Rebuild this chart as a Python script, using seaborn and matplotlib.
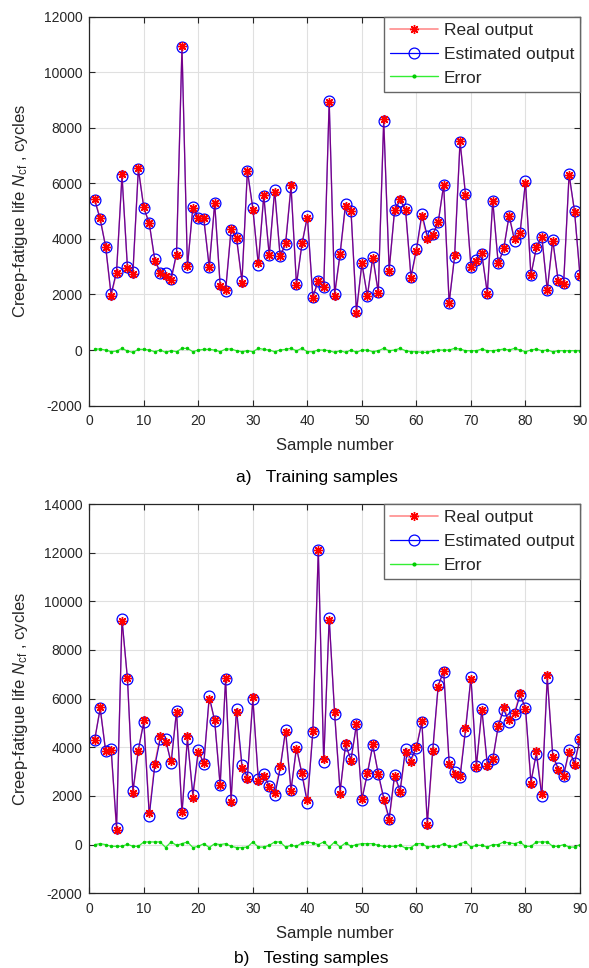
import numpy as np
import pandas as pd
import matplotlib
matplotlib.use('Agg')
import matplotlib.pyplot as plt
from matplotlib.lines import Line2D
import seaborn as sns

# training samples: real output (cycles) and error
train_real = [5430, 4740, 3720, 1940, 2790, 6330, 2940, 2730, 6540, 5140,
              4560, 3210, 2790, 2680, 2520, 3420, 10950, 3040, 5100, 4740,
              4740, 3000, 5280, 2300, 2160, 4360, 4020, 2430, 6430, 5040,
              3120, 5580, 3420, 5700, 3380, 3840, 5940, 2340, 3860, 4760,
              1860, 2500, 2260, 8930, 1940, 3440, 5180, 5000, 1320, 3120,
              1940, 3300, 2060, 8320, 2860, 5040, 5440, 5040, 2580, 3560,
              4820, 4010, 4140, 4600, 5950, 1700, 3420, 7540, 5580, 2980,
              3220, 3480, 2030, 5350, 3120, 3660, 4840, 3980, 4200, 6010,
              2700, 3720, 4060, 2160, 3910, 2480, 2380, 6300, 4970, 2660]
train_err = [36, 36, 0, -60, -36, 60, -36, -84, 24, 24,
             0, -60, 0, -84, -24, -60, 60, 60, -60, 0,
             24, 24, 0, -60, 36, 36, -24, -60, -24, -60,
             60, 24, 0, -60, 0, 24, 60, -24, 60, -60,
             -60, 0, 0, -24, -84, -24, -84, 0, -84, 0,
             0, -60, -24, 60, -24, 0, 60, -24, -60, -60,
             -84, -84, -24, 0, 0, 0, 60, 36, -24, -24,
             -24, 36, -24, -24, 0, 36, 0, 60, 0, -60,
             0, 36, -24, 0, -60, -24, -24, -24, -24, -24]

# testing samples
test_real = [4320, 5640, 3840, 3880, 620, 9200, 6830, 2130, 3840, 5140,
             1300, 3330, 4450, 4230, 3450, 5460, 1330, 4450, 1930, 3810,
             3360, 5980, 5120, 2440, 6830, 1760, 5460, 3150, 2680, 6080,
             2610, 2810, 2370, 2130, 3220, 4610, 2210, 3940, 2960, 1820,
             4680, 12110, 3500, 9230, 5460, 2100, 4160, 3430, 4940, 1890,
             2950, 4130, 2890, 1850, 1000, 2810, 2170, 3810, 3400, 4020,
             5090, 800, 3840, 6490, 7150, 3310, 2920, 2810, 4800, 6790,
             3200, 5530, 3220, 3500, 4870, 5660, 5120, 5420, 6250, 5560,
             2510, 3850, 2100, 6970, 3610, 3060, 2840, 3790, 3260, 4350]
test_err = [0, 40, 0, -70, -70, -70, 15, -70, -70, 110,
            110, 110, 110, -120, 110, -30, 40, 110, -120, -70,
            40, -120, 40, 0, 40, -70, -120, -120, -100, 110,
            -100, -100, -30, 110, 110, -100, -30, -70, 70, 110,
            70, 0, 110, -100, 110, -100, 70, -70, 0, 40,
            40, 40, -30, -70, -70, -70, -30, -140, -120, 40,
            40, -100, -70, -70, 40, -70, -70, 40, 110, -100,
            -30, -30, -100, 0, 0, 110, 70, 40, 110, -70,
            -70, 110, 110, 110, -70, -70, 0, -100, -100, 0]

captions = ['a)   Training samples', 'b)   Testing samples']
yticks_list = [np.arange(-2000, 12001, 2000), np.arange(-2000, 14001, 2000)]

sns.set_theme(style='white')
plt.rcParams['font.family'] = ['Liberation Sans', 'DejaVu Sans']
plt.rcParams['mathtext.fontset'] = 'custom'
plt.rcParams['mathtext.rm'] = 'Liberation Sans'
plt.rcParams['mathtext.it'] = 'Liberation Sans:italic'
plt.rcParams['axes.unicode_minus'] = False

dark = '#262626'
red_line = (1, 0, 0, 0.45)
fig = plt.figure(figsize=(5.89, 9.68), dpi=100)
ax_top = fig.add_axes([0.1516, 0.5810, 0.8331, 0.4018])
ax_bot = fig.add_axes([0.1516, 0.0772, 0.8331, 0.4021])

sets = [(ax_top, train_real, train_err), (ax_bot, test_real, test_err)]
for i, (ax, real, err) in enumerate(sets):
    df = pd.DataFrame({'n': np.arange(1, len(real) + 1),
                       'real': real, 'err': err})
    df['est'] = df['real'] - df['err']

    sns.lineplot(data=df, x='n', y='est', ax=ax, color='blue', linewidth=0.9,
                 marker='o', markersize=7.8, markerfacecolor='none',
                 markeredgecolor='blue', markeredgewidth=0.9, sort=False)
    sns.lineplot(data=df, x='n', y='real', ax=ax, color=red_line,
                 linewidth=1.0, marker=(8, 2, 0), markersize=6.5,
                 markeredgecolor='red', markeredgewidth=1.0, sort=False)
    sns.lineplot(data=df, x='n', y='err', ax=ax, color='#33ee33',
                 linewidth=0.9, marker='o', markersize=2.0,
                 markeredgecolor='#00cc00', markerfacecolor='#00cc00',
                 markeredgewidth=0.5, sort=False)

    yt = yticks_list[i]
    ax.set_xlim(0, 90)
    ax.set_ylim(yt[0], yt[-1])
    ax.set_xticks(np.arange(0, 91, 10))
    ax.set_yticks(yt)
    ax.grid(True, color='#e0e0e0', linewidth=0.8)
    ax.set_axisbelow(True)
    ax.tick_params(direction='in', length=4, width=0.8, colors=dark,
                   labelsize=10, top=True, right=True, bottom=True,
                   left=True, pad=5)
    ax.tick_params(axis='x', pad=6)
    for s in ax.spines.values():
        s.set_color(dark)
        s.set_linewidth(0.9)

    ax.set_xlabel('Sample number', fontsize=12, color=dark)
    ax.xaxis.set_label_coords(0.5, -0.084)
    ax.set_ylabel(r'Creep-fatigue life $\mathit{N}_{\mathrm{cf}}$ , cycles',
                  fontsize=12, color=dark)
    ax.yaxis.set_label_coords(-0.12, 0.5)

    handles = [
        Line2D([], [], color=red_line, linewidth=1.2, marker=(8, 2, 0),
               markersize=6.5, markeredgecolor='red', markeredgewidth=1.0),
        Line2D([], [], color='blue', linewidth=0.9, marker='o', markersize=7.8,
               markerfacecolor='none', markeredgecolor='blue',
               markeredgewidth=0.9),
        Line2D([], [], color='#33ee33', linewidth=1.0, marker='o',
               markersize=2.0, markeredgecolor='#00cc00',
               markerfacecolor='#00cc00'),
    ]
    leg = ax.legend(handles, ['Real output', 'Estimated output', 'Error'],
                    loc='upper right', borderaxespad=0, fontsize=12.5,
                    frameon=True, fancybox=False, handlelength=2.8,
                    handletextpad=0.3, labelspacing=0.5, borderpad=0.35)
    leg.get_frame().set_edgecolor('#666666')
    leg.get_frame().set_linewidth(1.0)
    leg.get_frame().set_alpha(1)

fig.text(236 / 589, 1 - 478 / 968, captions[0], fontsize=12.5, ha='left',
         va='center', color='black')
fig.text(234 / 589, 1 - 958 / 968, captions[1], fontsize=12.5, ha='left',
         va='center', color='black')

fig.savefig('out.png', dpi=100)
